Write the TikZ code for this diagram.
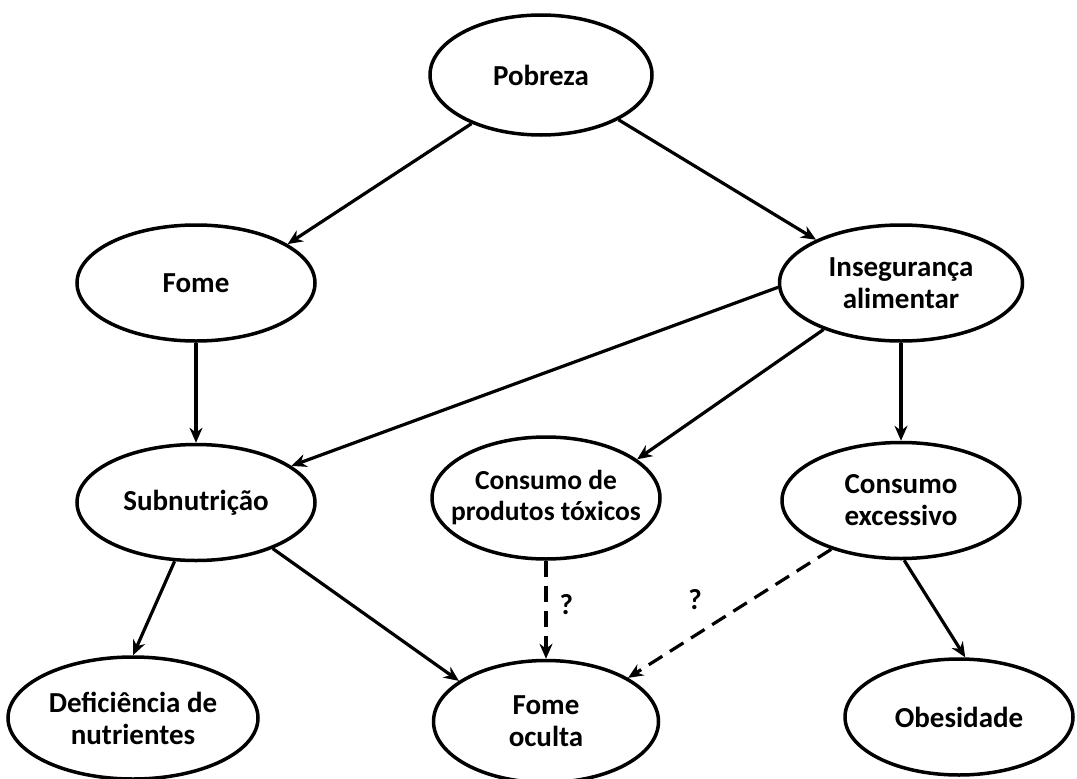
\documentclass[tikz,border=0pt]{standalone}
\usepackage{fontspec}
\setmainfont{Carlito}
\usetikzlibrary{arrows.meta,positioning,shapes.geometric}

\begin{document}
\begin{tikzpicture}[x=1pt,y=-1pt,>={Stealth[length=15pt,width=13pt]},line width=3.2pt,
 e/.style={ellipse,draw,line width=3.5pt,align=center,inner sep=0pt,font=\bfseries\fontsize{29}{32}\selectfont,minimum width=238pt,minimum height=116pt},
 q/.style={inner sep=0pt,font=\bfseries\fontsize{29}{30}\selectfont},
 guess/.style={->,dash pattern=on 16pt off 9pt}]
\useasboundingbox (0,0) rectangle (1077,779);
\node[e,minimum width=222pt,minimum height=120pt] (pob) at (541,75) {Pobreza};
\node[e] (fome) at (196,283) {Fome};
\node[e,minimum width=243pt] (inseg) at (901,283) {Insegurança\\alimentar};
\node[e,below=100pt of fome] (subn) {Subnutrição};
\node[e,minimum width=228pt,minimum height=122pt,inner xsep=-30pt,font=\bfseries\fontsize{27.5}{31}\selectfont] (toxic) at (546,498) {Consumo de\\produtos tóxicos};
\node[e,below=98pt of inseg] (excess) {Consumo\\excessivo};
\node[e,minimum width=250pt,minimum height=122pt] (defic) at (133,718) {Deficiência de\\nutrientes};
\node[e,minimum width=225pt,minimum height=122pt,below=98pt of toxic] (oculta) {Fome\\oculta};
\node[e,minimum width=228pt] (obes) at (959,717) {Obesidade};
% setas
\draw[->] (pob.215) -- (fome.23);
\draw[->] (pob.330) -- (inseg.153);
\draw[->] (fome) -- (subn);
\draw[->] (inseg.182) -- (subn.21);
\draw[->] (inseg.211) -- (toxic.23);
\draw[->] (inseg) -- (excess);
\draw[->] (subn.250) -- (defic.north);
\draw[->] (subn.329) -- (oculta.155);
\draw[->] (excess.273) -- (obes.84);
\draw[guess] (toxic) -- node[q,right=12pt,pos=0.45] (q1) {?} (oculta);
\draw[guess] (excess.215) -- node[q,above=24pt,pos=0.67] (q2) {?} (oculta.28);
\end{tikzpicture}
\end{document}
